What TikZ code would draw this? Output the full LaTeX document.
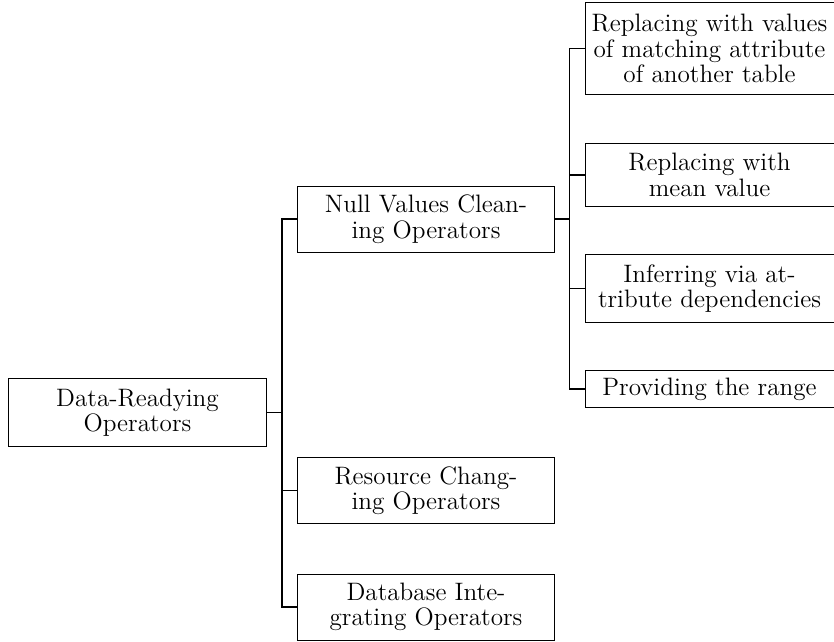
\documentclass[tikz,border=0pt]{standalone}
\begin{document}
\begin{tikzpicture}[x=0.48pt,y=-0.48pt,
  box/.style={draw,line width=0.45pt,align=center,inner sep=0pt,
    font=\fontsize{12.1}{12.2}\selectfont},
  conn/.style={line width=0.9pt}]
\useasboundingbox (0,0) rectangle (834,641);
% root
\node[box,minimum width=123.4pt,minimum height=32.2pt] (root) at (137.5,412.5) {Data-Readying\\Operators};
% level 1
\node[box,minimum width=123pt,minimum height=31.7pt] (null) at (426,219) {Null Values Clean-\\ing Operators};
\node[box,minimum width=123pt,minimum height=31.7pt] (res) at (426,490.5) {Resource Chang-\\ing Operators};
\node[box,minimum width=123pt,minimum height=31.7pt] (db) at (426,607) {Database Inte-\\grating Operators};
% level 2
\node[box,minimum width=119.5pt,minimum height=44.2pt] (r1) at (709.5,48.5) {Replacing with values\\of matching attribute\\of another table};
\node[box,minimum width=119.5pt,minimum height=29.8pt] (r2) at (709.5,175) {Replacing with\\mean value};
\node[box,minimum width=119.5pt,minimum height=32.2pt] (r3) at (709.5,288.5) {Inferring via at-\\tribute dependencies};
\node[box,minimum width=119.5pt,minimum height=17.8pt] (r4) at (709.5,389) {Providing the range};
% junctions
\coordinate (j1) at (281.7,412.5);
\coordinate (j2) at (569.5,219);
\draw[conn] (root.east) -- (j1);
\draw[conn] (j1) |- (null.west);
\draw[conn] (j1) |- (res.west);
\draw[conn] (j1) |- (db.west);
\draw[conn] (null.east) -- (j2);
\draw[conn] (j2) |- (r1.west);
\draw[conn] (j2) |- (r2.west);
\draw[conn] (j2) |- (r3.west);
\draw[conn] (j2) |- (r4.west);
\end{tikzpicture}
\end{document}
